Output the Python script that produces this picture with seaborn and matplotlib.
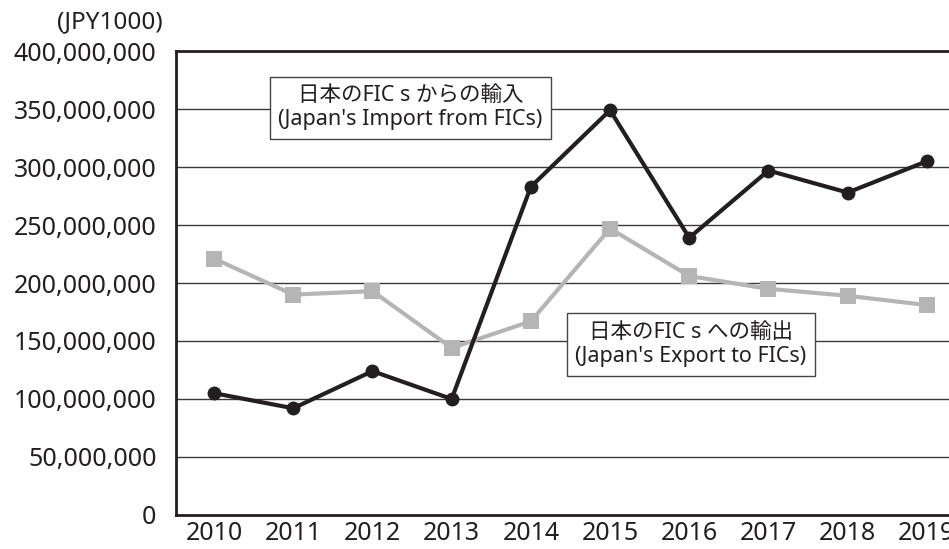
import pandas as pd
import matplotlib.pyplot as plt
import seaborn as sns
from matplotlib.ticker import FuncFormatter

# data (JPY1000)
years = [2010, 2011, 2012, 2013, 2014, 2015, 2016, 2017, 2018, 2019]
imports = [105e6, 92e6, 124e6, 100e6, 283e6, 349e6, 239e6, 297e6, 278e6, 305e6]
exports = [221e6, 190e6, 193e6, 144e6, 167e6, 247e6, 206e6, 195e6, 189e6, 181e6]
yticks = [0, 50e6, 100e6, 150e6, 200e6, 250e6, 300e6, 350e6, 400e6]

sns.set_theme(style="white")
plt.rcParams['font.family'] = ['Noto Sans', 'Noto Sans CJK JP', 'DejaVu Sans']

df = pd.DataFrame({'year': years, 'import': imports, 'export': exports})

fig = plt.figure(figsize=(9.49, 5.49), dpi=100)
ax = fig.add_axes([0.1855, 0.062, 0.8145, 0.845])

# horizontal grid lines
for v in yticks[1:-1]:
    ax.axhline(v, color='#3a3a3a', linewidth=1.0, zorder=1)

sns.lineplot(data=df, x='year', y='export', ax=ax, color='#b5b5b6', linewidth=3,
             marker='s', markersize=12, markeredgewidth=0, zorder=3)
sns.lineplot(data=df, x='year', y='import', ax=ax, color='#231f20', linewidth=3,
             marker='o', markersize=10, markeredgewidth=0, zorder=4)

ax.set_xlim(2009.52, 2019.28)
ax.set_ylim(0, 400e6)
ax.set_xticks(years)
ax.set_yticks(yticks)
ax.yaxis.set_major_formatter(FuncFormatter(lambda v, p: f'{int(v):,}'))
ax.set_xlabel('')
ax.set_ylabel('')

for s in ['left', 'bottom', 'top']:
    ax.spines[s].set_color('#231f20')
    ax.spines[s].set_linewidth(2)
ax.spines['right'].set_visible(False)

ax.tick_params(axis='x', direction='in', length=10, width=1, color='#555555',
               labelsize=18, pad=4, labelcolor='#231f20')
ax.tick_params(axis='y', length=0, labelsize=18, pad=14, labelcolor='#231f20')

fig.text(0.171, 0.96, '(JPY1000)', ha='right', va='center', fontsize=17.5, color='#231f20')

box = dict(boxstyle='square,pad=0.4', facecolor='white', edgecolor='#444444', linewidth=1)
ax.text(2012.48, 351e6, '日本のFIC s からの輸入\n(Japan\'s Import from FICs)', ha='center', va='center',
        fontsize=15.5, color='#231f20', linespacing=1.2, bbox=box, zorder=5)
ax.text(2016.02, 147e6, '日本のFIC s への輸出\n(Japan\'s Export to FICs)', ha='center', va='center',
        fontsize=15.5, color='#231f20', linespacing=1.2, bbox=box, zorder=5)

fig.savefig('out.png', dpi=100)
